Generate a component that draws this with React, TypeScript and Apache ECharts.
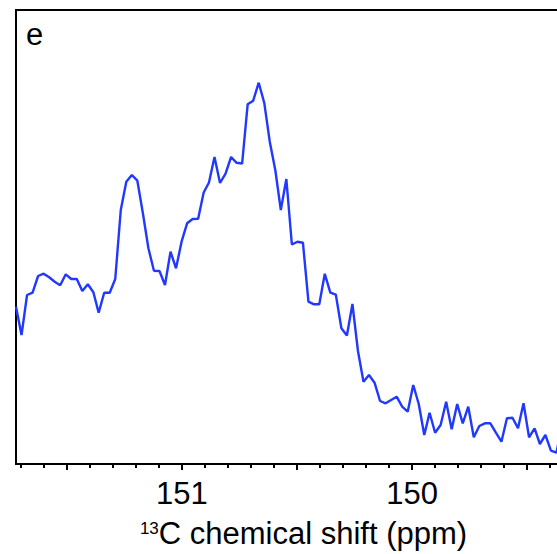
import React, { useEffect, useRef } from 'react';
import * as echarts from 'echarts';

// chemical shift (ppm) of each sampled point
const ppm = [
  151.720, 151.696, 151.672, 151.648, 151.624, 151.600, 151.576, 151.552, 151.528, 151.504,
  151.480, 151.456, 151.432, 151.408, 151.384, 151.361, 151.337, 151.313, 151.289, 151.265,
  151.241, 151.217, 151.193, 151.169, 151.145, 151.121, 151.097, 151.073, 151.049, 151.025,
  151.001, 150.977, 150.953, 150.929, 150.905, 150.882, 150.858, 150.834, 150.810, 150.786,
  150.762, 150.738, 150.714, 150.690, 150.666, 150.642, 150.618, 150.594, 150.570, 150.546,
  150.522, 150.498, 150.474, 150.450, 150.426, 150.403, 150.379, 150.355, 150.331, 150.307,
  150.283, 150.259, 150.235, 150.211, 150.187, 150.163, 150.139, 150.115, 150.091, 150.067,
  150.043, 150.019, 149.995, 149.971, 149.947, 149.924, 149.900, 149.876, 149.852, 149.828,
  149.804, 149.780, 149.756, 149.732, 149.708, 149.684, 149.660, 149.636, 149.612, 149.588,
  149.564, 149.540, 149.516, 149.492, 149.468, 149.445, 149.421, 149.397, 149.373, 149.349,
];

// intensity (arbitrary units)
const intensity = [
  157.3, 129, 169, 171.3, 188, 190.3, 186.7, 182.3, 178.7, 189.7,
  185, 185, 173, 179.7, 171.7, 151.3, 171.3, 171.3, 185, 254,
  282.3, 289, 283.3, 250.7, 215.7, 193.3, 193, 179, 212.3, 195.7,
  222.3, 240.7, 245, 245.2, 271.5, 281.5, 307, 281, 290.3, 307,
  301.2, 300.5, 359.7, 363.3, 381.3, 361.3, 322.3, 294, 254, 285,
  219.5, 222.3, 221.3, 162.3, 159.7, 159.7, 190.2, 171.3, 169.3, 135.7,
  128.5, 160, 113, 82.3, 89, 81.3, 63, 60.7, 64, 67.3,
  57.3, 52.3, 79, 60, 29, 51.3, 31.3, 39, 62.3, 34.7,
  60, 40.7, 57.3, 26.7, 38, 40.7, 40.7, 31.3, 22.3, 45.7,
  46.3, 35.7, 60.7, 26.7, 35.7, 20, 29, 13.3, 11.3, 39,
];

const majorTicks = [149.5, 150, 150.5, 151, 151.5];
const minorTicks = [
  149.3, 149.4, 149.6, 149.7, 149.8, 149.9, 150.1, 150.2, 150.3, 150.4,
  150.6, 150.7, 150.8, 150.9, 151.1, 151.2, 151.3, 151.4, 151.6, 151.7,
];
const tickLabels = [150, 151];
const panelLabel = 'e';
const xTitleSup = '13';
const xTitleMain = 'C chemical shift (ppm)';

const X_MIN = 149.223;
const X_MAX = 151.72;
const Y_MIN = 0;
const Y_MAX = 454;

const FONT = '"Liberation Sans", Arial, Helvetica, sans-serif';
const LINE_COLOR = '#2138ff';

export default function App() {
  const ref = useRef<HTMLDivElement>(null);

  useEffect(() => {
    if (!ref.current) return;
    const chart = echarts.init(ref.current, null, { renderer: 'svg' });
    const data = ppm.map((p, i) => [p, intensity[i]]);

    chart.setOption({
      animation: false,
      backgroundColor: '#fff',
      grid: {
        left: 16,
        top: 10,
        right: -34,
        bottom: 90,
        outerBoundsMode: 'none',
        containLabel: false,
        show: true,
        borderColor: '#000',
        borderWidth: 2,
        backgroundColor: 'transparent',
      },
      xAxis: [
        {
          type: 'value',
          inverse: true,
          min: X_MIN,
          max: X_MAX,
          position: 'bottom',
          axisLine: { show: true, lineStyle: { color: '#000', width: 2 } },
          splitLine: { show: false },
          axisTick: {
            show: true,
            customValues: majorTicks,
            length: 6,
            lineStyle: { color: '#000', width: 2 },
          },
          axisLabel: {
            show: true,
            customValues: tickLabels,
            margin: 14,
            color: '#000',
            fontSize: 31,
            fontFamily: FONT,
          },
          name: `{sup|${xTitleSup}}{main|${xTitleMain}}`,
          nameLocation: 'middle',
          nameGap: 54,
          nameTextStyle: {
            color: '#000',
            fontFamily: FONT,
            rich: {
              sup: {
                fontSize: 17,
                fontFamily: FONT,
                color: '#000',
                verticalAlign: 'top',
                lineHeight: 31,
                padding: [2, 0, 0, 0],
              },
              main: {
                fontSize: 31,
                fontFamily: FONT,
                color: '#000',
                lineHeight: 31,
              },
            },
          },
        },
        {
          type: 'value',
          inverse: true,
          min: X_MIN,
          max: X_MAX,
          position: 'bottom',
          axisLine: { show: false },
          splitLine: { show: false },
          axisLabel: { show: false },
          axisTick: {
            show: true,
            customValues: minorTicks,
            length: 4,
            lineStyle: { color: '#000', width: 2 },
          },
        },
      ],
      yAxis: {
        type: 'value',
        min: Y_MIN,
        max: Y_MAX,
        show: false,
        splitLine: { show: false },
      },
      graphic: [
        {
          type: 'text',
          left: 26,
          top: 19,
          style: {
            text: panelLabel,
            fontSize: 31,
            fontFamily: FONT,
            fill: '#000',
          },
        },
      ],
      series: [
        {
          type: 'line',
          xAxisIndex: 0,
          yAxisIndex: 0,
          data,
          showSymbol: false,
          clip: true,
          lineStyle: { color: LINE_COLOR, width: 2.4 },
          itemStyle: { color: LINE_COLOR },
        },
      ],
    });

    return () => chart.dispose();
  }, []);

  return <div ref={ref} style={{ width: 557, height: 554, position: 'absolute', left: 0, top: 0 }} />;
}
